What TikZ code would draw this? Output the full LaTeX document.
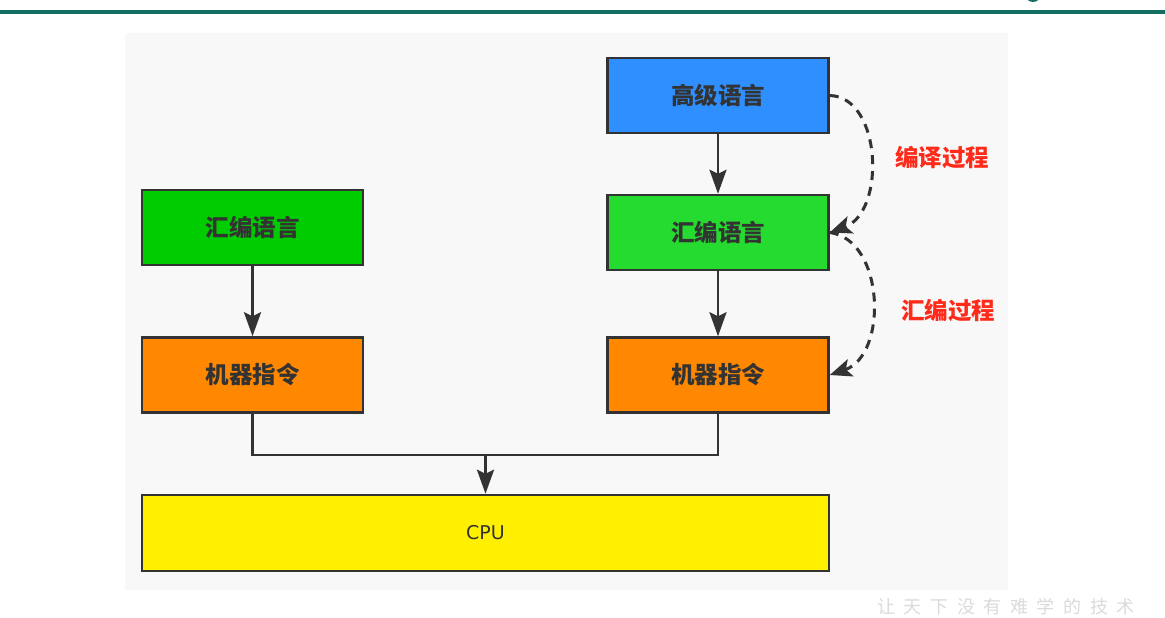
\documentclass[tikz,border=0pt]{standalone}
\usepackage{fontspec}
\newfontfamily\cjk{Noto Sans CJK SC}
\newfontfamily\dejasans{DejaVu Sans}
\usetikzlibrary{arrows.meta}
\definecolor{panel}{HTML}{F7F8F7}
\definecolor{teal}{HTML}{136E62}
\definecolor{edge}{HTML}{333333}
\definecolor{blueF}{HTML}{2F8FFF}
\definecolor{greenA}{HTML}{00CC00}
\definecolor{greenB}{HTML}{26DB2F}
\definecolor{orangeF}{HTML}{FF8800}
\definecolor{yellowF}{HTML}{FFF000}
\definecolor{labred}{HTML}{FF2A1A}
\begin{document}
\begin{tikzpicture}[x=1pt,y=-1pt,
  box/.style={draw=edge, line width=2.5pt, minimum width=221pt, minimum height=75pt,
    inner sep=0pt, text=edge, font=\cjk\bfseries\fontsize{23.5}{23.5}\selectfont},
  flow/.style={draw=edge, line width=2.5pt, -{Stealth[length=24pt,width=17pt,inset=4pt]}},
  link/.style={draw=edge, line width=2.5pt},
  dashlink/.style={draw=edge, line width=3pt, dash pattern=on 9pt off 7pt,
    -{Stealth[length=22pt,width=18pt,inset=5pt]}},
  lab/.style={text=labred, font=\cjk\bfseries\fontsize{23.5}{23.5}\selectfont}]
\useasboundingbox (0,0) rectangle (1165,618);
\fill[white] (0,0) rectangle (1165,618);
\fill[panel] (125,33) rectangle (1008,590);
\draw[teal, line width=4pt] (0,12.5) -- (1165,12.5);
\fill[teal] (1033,-6) circle (8);

\node[box, fill=greenA] (asmL) at (252.5,227.5) {汇编语言};
\node[box, fill=orangeF] (machL) at (252.5,375) {机器指令};
\node[box, fill=blueF] (high) at (718,95.5) {高级语言};
\node[box, fill=greenB] (asmR) at (718,232.5) {汇编语言};
\node[box, fill=orangeF] (machR) at (718,375) {机器指令};
\node[box, fill=yellowF, minimum width=687pt, minimum height=76pt,
  font=\dejasans\fontsize{19}{19}\selectfont] (cpu) at (485.5,533) {CPU};

\coordinate (joinL) at (252.5,455);
\coordinate (joinR) at (718,455);
\coordinate (joinC) at (485.5,455);

\draw[flow] (asmL) -- (machL);
\draw[flow] (high) -- (asmR);
\draw[flow] (asmR) -- (machR);
\draw[link] (machL.south) -- (joinL) -- (joinR) -- (machR.south);
\draw[flow] (joinC) -- (cpu.north);

\draw[dashlink] (high.east) .. controls (882,97) and (886,212) .. (asmR.east);
\draw[dashlink] (asmR.east) .. controls (885,240) and (888,355) .. (machR.east);

\node[lab] (l1) at (942,157) {编译过程};
\node[lab] (l2) at (948,310) {汇编过程};

\node[text=black!14, font=\cjk\fontsize{18}{18}\selectfont\addfontfeature{LetterSpace=48}] (wm) at (1006,607) {让天下没有难学的技术};
\end{tikzpicture}
\end{document}
